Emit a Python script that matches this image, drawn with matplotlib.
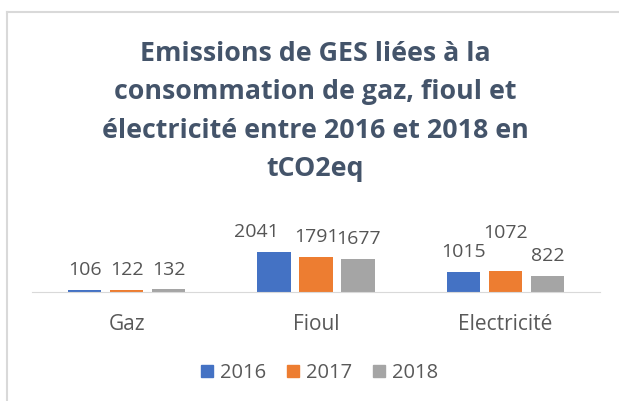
import numpy as np
import matplotlib.pyplot as plt
from matplotlib.lines import Line2D

# Data
categories = ["Gaz", "Fioul", "Electricité"]
years = ["2016", "2017", "2018"]
values_2016 = [106, 2041, 1015]
values_2017 = [122, 1791, 1072]
values_2018 = [132, 1677, 822]

title_lines = ["Emissions de GES liées à la",
               "consommation de gaz, fioul et",
               "électricité entre 2016 et 2018 en",
               "tCO2eq"]

colors = ["#4472C4", "#ED7D31", "#A5A5A5"]
# data label offsets in points, [series][category] (some labels were moved by hand)
label_dx = [[0, -13, 0], [0, 0, 0], [0, 0, 0]]
label_dy = [[10.6, 10.6, 10.6], [10.6, 10.6, 23.8], [10.6, 10.6, 10.6]]

plt.rcParams['font.family'] = ['Open Sans', 'DejaVu Sans']

W, H = 619, 401
fig = plt.figure(figsize=(W / 100, H / 100), dpi=100)
ax = fig.add_axes([32 / W, 1 - 292 / H, 568 / W, 92 / H])

x = np.arange(len(categories))
step = 0.222
width = 0.175
series = [values_2016, values_2017, values_2018]
handles = []
for i, vals in enumerate(series):
    bars = ax.bar(x + (i - 1) * step, vals, width, color=colors[i], label=years[i])
    for j, b in enumerate(bars):
        ax.annotate(str(vals[j]), (b.get_x() + b.get_width() / 2, b.get_height()),
                    xytext=(label_dx[i][j], label_dy[i][j]), textcoords="offset points",
                    ha="center", va="baseline", fontsize=14, color="#555555")
    handles.append(Line2D([], [], marker="s", linestyle="", markersize=8.6, color=colors[i]))

ax.set_xlim(-0.5, 2.5)
ax.set_ylim(0, 4694)
ax.set_yticks([])
ax.set_xticks(x)
ax.set_xticklabels(categories, fontsize=15, color="#595959")
for t in ax.get_xticklabels():
    t.set_va("baseline")
ax.tick_params(axis="x", length=0, pad=27.4)
for s in ["top", "right", "left"]:
    ax.spines[s].set_visible(False)
ax.spines["bottom"].set_color("#D9D9D9")

title_baselines = [61, 99, 137.5, 176.5]
for line, yb in zip(title_lines, title_baselines):
    fig.text(315.5 / W, 1 - yb / H, line, ha="center", va="baseline",
             fontsize=19.3, fontweight="bold", color="#44546A")

fig.legend(handles, years, loc="center", bbox_to_anchor=(319.5 / W, 1 - 373 / H),
           ncol=3, frameon=False, fontsize=14.5, handlelength=0.6, handletextpad=0.35,
           columnspacing=1.02, borderpad=0, labelcolor="#595959")

# chart border (only top and left edges are visible)
fig.add_artist(Line2D([7 / W, 1], [1 - 12 / H] * 2, color="#D9D9D9", lw=1.5))
fig.add_artist(Line2D([7 / W] * 2, [0, 1 - 12 / H], color="#D9D9D9", lw=1.5))

fig.savefig("out.png", dpi=100)
